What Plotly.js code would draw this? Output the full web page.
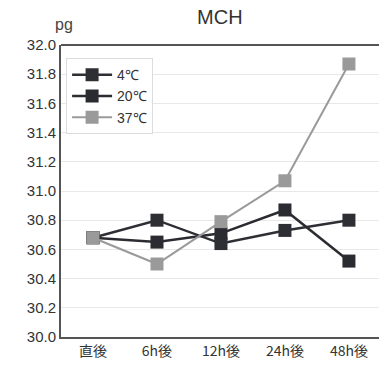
<!DOCTYPE html>
<html><head><meta charset="utf-8">
<script src="https://cdn.plot.ly/plotly-3.0.1.min.js"></script>
<style>html,body{margin:0;padding:0;background:#fff;overflow:hidden}#c{width:379px;height:374px}</style>
</head><body><div id="c"></div>
<script>
const categories = ["直後", "6h後", "12h後", "24h後", "48h後"];
const seriesNames = ["4℃", "20℃", "37℃"];
const v4 = [30.68, 30.80, 30.64, 30.73, 30.80];
const v20 = [30.68, 30.65, 30.71, 30.87, 30.52];
const v37 = [30.68, 30.50, 30.79, 31.07, 31.87];
const yTicks = [30.0, 30.2, 30.4, 30.6, 30.8, 31.0, 31.2, 31.4, 31.6, 31.8, 32.0];

const colors = ["#2e2e35", "#2b2b32", "#9a9a9a"];
const widths = [2.5, 2.5, 2];
const vals = [v4, v20, v37];
const traces = vals.map((v, i) => ({
  type: "scatter", mode: "lines+markers", x: categories, y: v, name: seriesNames[i],
  line: {color: colors[i], width: widths[i]},
  marker: {symbol: "square", size: 13, color: colors[i]}
}));

const layout = {
  width: 379, height: 374,
  margin: {l: 61, r: 0, t: 45, b: 37},
  paper_bgcolor: "#fff", plot_bgcolor: "#fff",
  font: {family: "Liberation Sans, Arial, sans-serif", color: "#333", size: 15},
  title: {text: "MCH", x: 0.58, xanchor: "center", y: 0.955, yanchor: "middle",
          font: {size: 20, color: "#333", family: "Liberation Sans, Arial, sans-serif"}},
  showlegend: true,
  legend: {x: 0.016, y: 0.955, xanchor: "left", yanchor: "top", bgcolor: "#fff",
           bordercolor: "#dcdcdc", borderwidth: 1, font: {size: 14, color: "#333"},
           tracegroupgap: 0, itemwidth: 40},
  xaxis: {type: "category", range: [-0.5, 4.47], showgrid: false, showline: true,
          linecolor: "#555", linewidth: 2, ticks: "", zeroline: false,
          tickfont: {family: "Noto Sans CJK JP, sans-serif", size: 14, color: "#333"}},
  yaxis: {range: [30, 32], tickvals: yTicks, ticktext: yTicks.map(t => t.toFixed(1)),
          showgrid: true, gridcolor: "#e8e8e8", gridwidth: 1, showline: true,
          linecolor: "#555", linewidth: 2, ticks: "", zeroline: false,
          tickfont: {size: 15, color: "#333"}},
  shapes: [{type: "line", xref: "paper", yref: "paper", x0: 0, x1: 1, y0: 1, y1: 1,
            line: {color: "#555", width: 2}}],
  annotations: [{text: "pg", xref: "paper", yref: "paper", x: -0.025, y: 1.035,
                 xanchor: "left", yanchor: "bottom", showarrow: false,
                 font: {size: 16, color: "#444"}}]
};
Plotly.newPlot("c", traces, layout, {staticPlot: true, displayModeBar: false});
</script></body></html>
